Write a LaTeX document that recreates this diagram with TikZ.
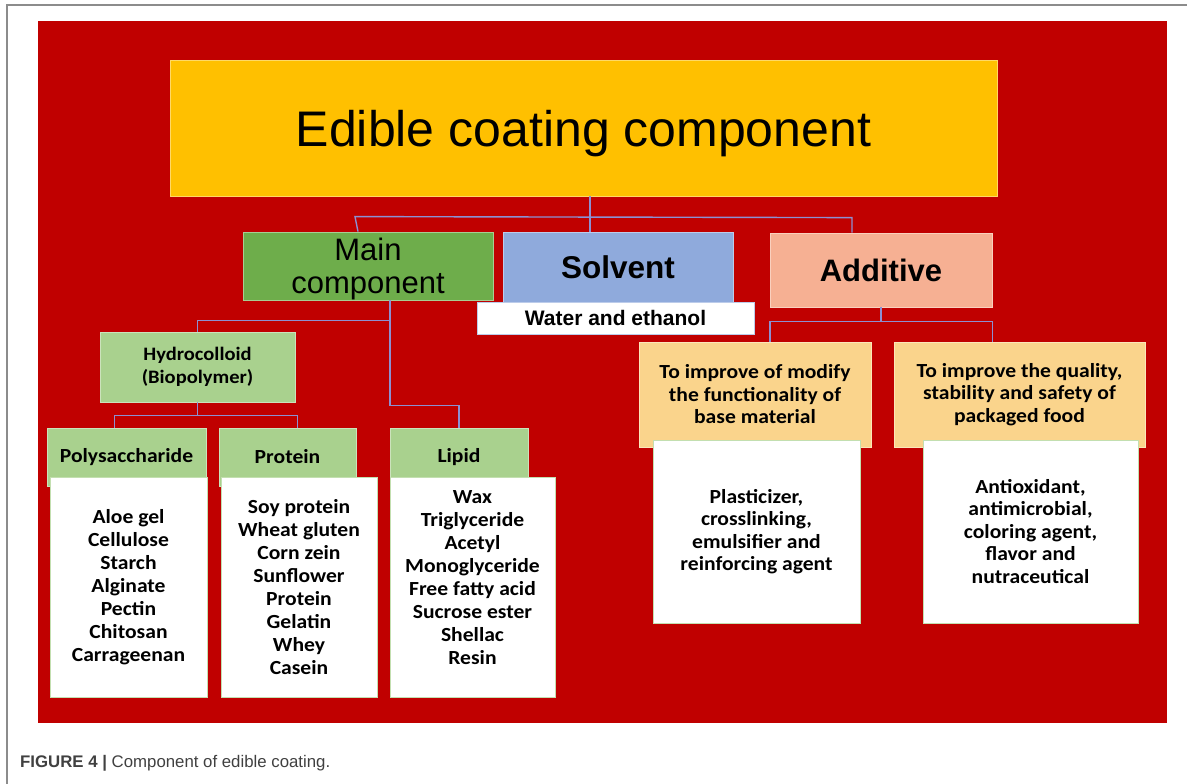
\documentclass[tikz,border=0pt]{standalone}
\usepackage{fontspec}
\setmainfont{Liberation Sans}
\newfontfamily\calib[FakeStretch=1.08]{Carlito}
\usetikzlibrary{positioning,calc}
\definecolor{cRed}{HTML}{C00000}
\definecolor{cYellow}{HTML}{FFC000}
\definecolor{cGreen}{HTML}{6EAD4B}
\definecolor{cBlue}{HTML}{8FAADC}
\definecolor{cSalmon}{HTML}{F6B093}
\definecolor{cLightGreen}{HTML}{A9D18E}
\definecolor{cGold}{HTML}{FAD48C}
\definecolor{cLink}{HTML}{8C90D2}
\definecolor{cFrame}{HTML}{8C8C8C}

\begin{document}
\begin{tikzpicture}[
    x=1pt, y=-1pt,
    box/.style={draw=#1!60!white, line width=0.8pt, inner sep=0pt, align=center},
    head/.style={box=#1, fill=#1},
    list/.style={draw=cLightGreen!70!white, line width=0.8pt, fill=white, inner sep=0pt, align=center,
        font=\calib\bfseries\fontsize{20}{23}\selectfont},
    link/.style={draw=cLink, line width=1.4pt},
]

% ---------- Frame and background ----------
\useasboundingbox (0,0) rectangle (1187,784);
\draw[cFrame, line width=1.2pt] (7,784) -- (7,5) -- (1187,5);
\fill[cRed] (38,21) rectangle (1167,723);

% ---------- Top levels ----------
\node[head=cYellow, minimum width=827pt, minimum height=136pt, text depth=0pt,
      font=\fontsize{50}{56}\selectfont] (title) at (583.5,128) {Edible coating component};

\node[head=cGreen, minimum width=250pt, minimum height=68pt, text depth=0pt,
      font=\fontsize{31}{33}\selectfont] (main) at (368,266) {Main\\component};
\node[head=cBlue, minimum width=230pt, minimum height=70pt,
      font=\bfseries\fontsize{31.5}{34}\selectfont] (solvent) at (618,267) {Solvent};
\node[head=cSalmon, minimum width=222pt, minimum height=74pt,
      font=\bfseries\fontsize{31}{34}\selectfont] (additive) at (881,270) {Additive};
\node[box=cBlue, fill=white, minimum width=277pt, minimum height=32pt,
      font=\bfseries\fontsize{21}{24}\selectfont] (water) at (615.5,318) {Water and ethanol};

% ---------- Main component branch ----------
\node[head=cLightGreen, minimum width=195pt, minimum height=70pt,
      font=\calib\bfseries\fontsize{19}{23}\selectfont] (hydro) at (197.5,367) {Hydrocolloid\\(Biopolymer)};

\node[head=cLightGreen, minimum width=159pt, minimum height=58pt,
      font=\calib\bfseries\fontsize{20}{23}\selectfont] (poly) at (126.5,457) {Polysaccharide};
\node[head=cLightGreen, minimum width=137pt, minimum height=58pt,
      font=\calib\bfseries\fontsize{20}{23}\selectfont] (prot) at (287.5,457) {Protein};
\node[head=cLightGreen, minimum width=138pt, minimum height=58pt,
      font=\calib\bfseries\fontsize{20}{23}\selectfont] (lipid) at (459,457) {Lipid};

\node[list, minimum width=157pt, minimum height=220pt] (polyList) at (128.5,587)
  {Aloe gel\\Cellulose\\Starch\\Alginate\\Pectin\\Chitosan\\Carrageenan};
\node[list, minimum width=156pt, minimum height=220pt] (protList) at (299,587)
  {Soy protein\\Wheat gluten\\Corn zein\\Sunflower\\Protein\\Gelatin\\Whey\\Casein};
\node[list, minimum width=165pt, minimum height=220pt] (lipidList) at (472.5,587)
  {Wax\\Triglyceride\\Acetyl\\Monoglyceride\\Free fatty acid\\Sucrose ester\\Shellac\\Resin\\[-5pt]};

% ---------- Additive branch ----------
\node[head=cGold, minimum width=232pt, minimum height=105pt,
      font=\calib\bfseries\fontsize{20}{22.5}\selectfont] (use1) at (755,394.5)
  {To improve of modify\\the functionality of\\base material};
\node[head=cGold, minimum width=251pt, minimum height=105pt,
      font=\calib\bfseries\fontsize{20}{22.5}\selectfont] (use2) at (1019.5,394.5)
  {To improve the quality,\\stability and safety of\\packaged food};

\node[list, minimum width=207pt, minimum height=183pt,
      font=\calib\bfseries\fontsize{20}{22.5}\selectfont] (useList1) at (756.5,531.5)
  {Plasticizer,\\crosslinking,\\emulsifier and\\reinforcing agent};
\node[list, minimum width=215pt, minimum height=183pt,
      font=\calib\bfseries\fontsize{20}{22.5}\selectfont] (useList2) at (1030.5,531.5)
  {Antioxidant,\\antimicrobial,\\coloring agent,\\flavor and\\nutraceutical};

% ---------- Connectors ----------
\draw[link] ([xshift=6.5pt]title.south) -- ([xshift=6.5pt]title.south |- solvent.north);
\draw[link] ([xshift=-10pt]main.north) -- ([xshift=-13pt,yshift=15pt]main.north)
  -- ([xshift=-29pt,yshift=15pt]additive.north) -- ([xshift=-29pt]additive.north);

\draw[link] ([xshift=22pt]main.south) -- ++(0,20) -| (hydro.north);
\draw[link] ([xshift=22pt]main.south) |- ([yshift=22pt]lipid.north) -- (lipid.north);

\draw[link] (hydro.south) -- ++(0,13) coordinate (hydroJoin);
\draw[link] ([xshift=-12pt]poly.north) |- (hydroJoin) -| ([xshift=10pt]prot.north);

\draw[link] (additive.south) -- ++(0,14) coordinate (addJoin);
\draw[link] ([xshift=15pt]use1.north) |- (addJoin) -| ([xshift=-27pt]use2.north);

% ---------- Caption ----------
\node[anchor=west, inner sep=0pt, font=\fontsize{16.8}{19}\selectfont, text=black!75] (caption) at (20,763)
  {\textbf{FIGURE 4 |} Component of edible coating.};

\end{tikzpicture}
\end{document}
